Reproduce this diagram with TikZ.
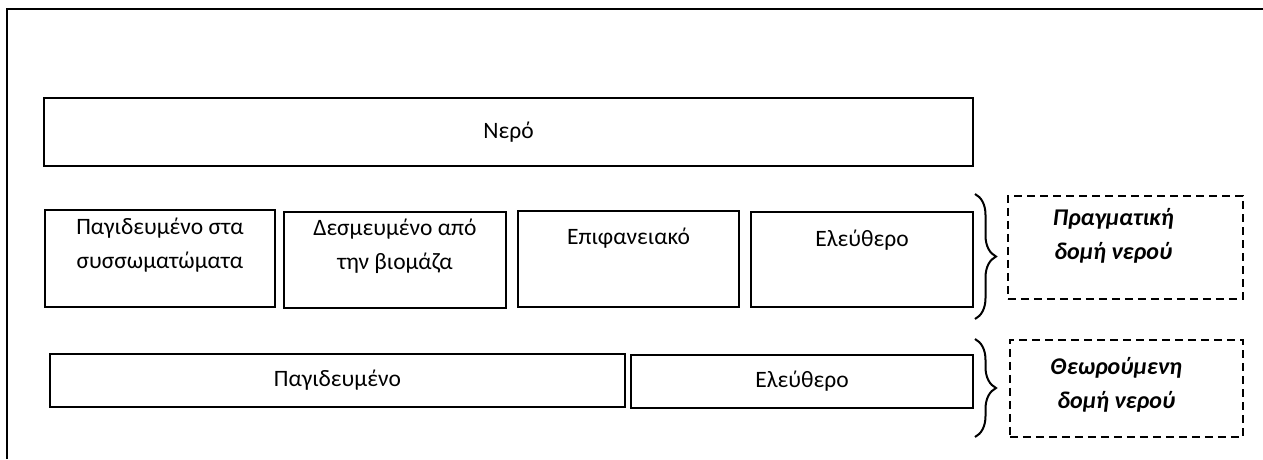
\documentclass[tikz,border=0pt]{standalone}
\usepackage{fontspec}
\setmainfont{Carlito}
\usetikzlibrary{decorations.pathreplacing}

\tikzset{
  part/.style={draw, line width=2pt, rectangle, inner sep=0pt, anchor=north west},
  structbox/.style={draw, line width=1.6pt, dash pattern=on 8pt off 5pt, rectangle, inner sep=0pt, anchor=north west},
  txt/.style={align=center, font=\fontsize{23.5}{34}\selectfont},
  bracetxt/.style={align=center, font=\fontsize{24}{34}\selectfont\bfseries\itshape},
  bigbrace/.style={decorate, decoration={brace, amplitude=21pt}, line width=2pt}
}

\begin{document}
\begin{tikzpicture}[x=1pt, y=-1pt]
\useasboundingbox (0,0) rectangle (1263,459);

% page frame
\draw[line width=2.4pt] (7,459) -- (7,9) -- (1263,9);

% water
\node[part, minimum width=929pt, minimum height=68pt] (water) at (43,97) {};
\node[txt] (watertxt) at (water.center) {Νερό};

% real structure
\node[part, minimum width=230pt, minimum height=97pt] (agg) at (44,209) {};
\node[part, minimum width=222pt, minimum height=96pt] (bio) at (283,211) {};
\node[part, minimum width=221pt, minimum height=96pt] (surf) at (517,210) {};
\node[part, minimum width=222pt, minimum height=95pt] (free) at (750,211) {};

\node[txt] (aggtxt) at ([yshift=-36pt]agg.north) {Παγιδευμένο στα\\συσσωματώματα};
\node[txt] (biotxt) at ([yshift=-35pt]bio.north) {Δεσμευμένο από\\την βιομάζα};
\node[txt] (surftxt) at ([yshift=-28pt]surf.north) {Επιφανειακό};
\node[txt] (freetxt) at ([yshift=-29pt]free.north) {Ελεύθερο};

% assumed structure
\node[part, minimum width=575pt, minimum height=53pt] (trap) at (49,353) {};
\node[part, minimum width=342pt, minimum height=53pt] (free2) at (630,354) {};
\node[txt] (traptxt) at (trap.center) {Παγιδευμένο};
\node[txt] (free2txt) at (free2.center) {Ελεύθερο};

% braces
\coordinate (b1top) at (975,194);
\coordinate (b1bot) at (975,319);
\coordinate (b2top) at (975,339);
\coordinate (b2bot) at (975,437);
\draw[bigbrace] (b1top) -- (b1bot);
\draw[bigbrace] (b2top) -- (b2bot);

\node[structbox, minimum width=235pt, minimum height=103pt] (real) at (1007,195) {};
\node[structbox, minimum width=233pt, minimum height=97pt] (assumed) at (1009,339) {};
\node[bracetxt] (realtxt) at ([xshift=-12pt,yshift=11pt]real.center) {Πραγματική\\δομή νερού};
\node[bracetxt] (assumedtxt) at ([xshift=-10pt,yshift=3pt]assumed.center) {Θεωρούμενη\\δομή νερού};

\end{tikzpicture}
\end{document}
